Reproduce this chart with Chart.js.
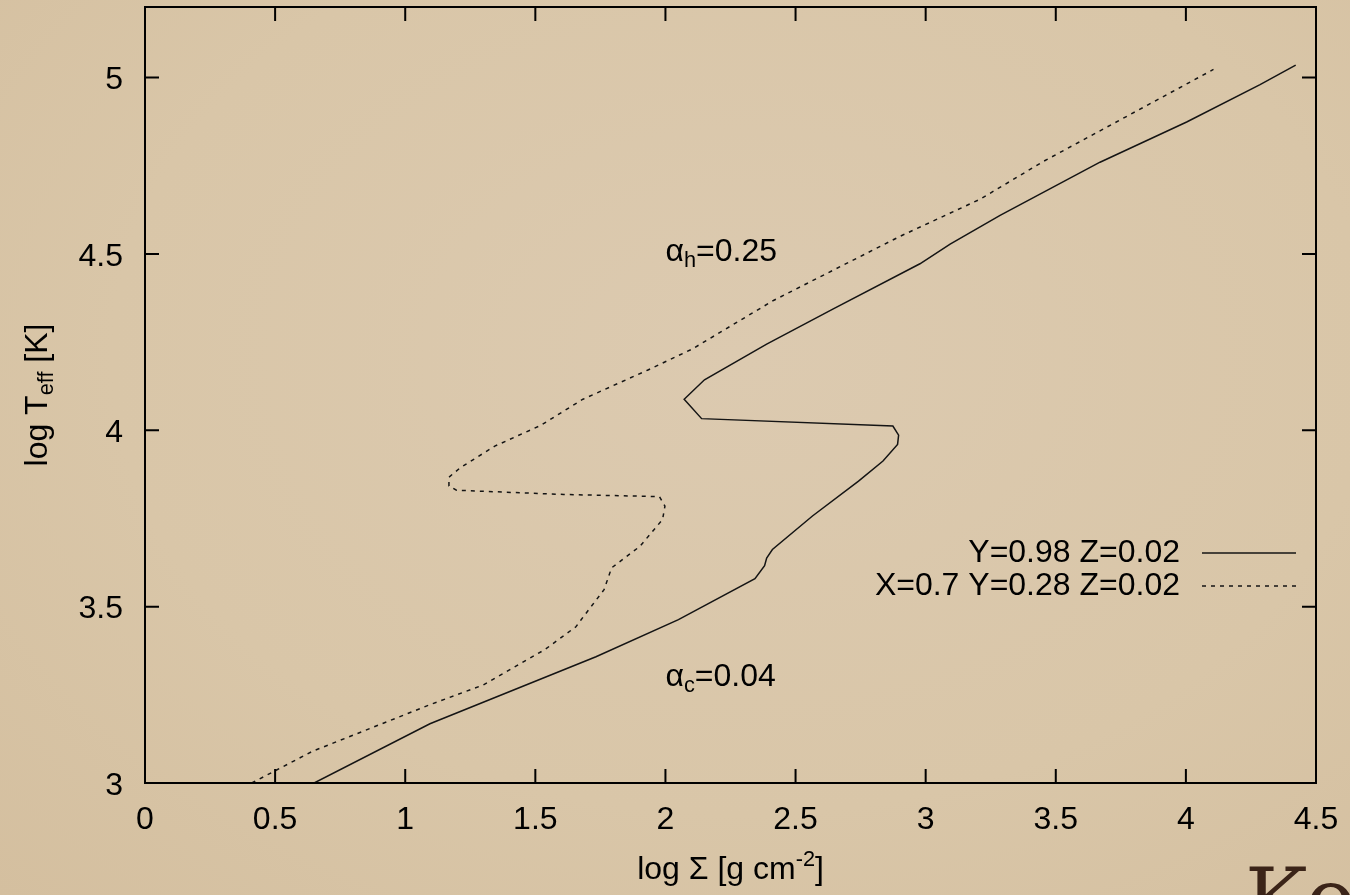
<!DOCTYPE html>
<html>
<head>
<meta charset="utf-8">
<title>log Teff - log Sigma</title>
<script src="https://cdn.jsdelivr.net/npm/chart.js@4.4.0/dist/chart.umd.min.js"></script>
<style>
    html, body { margin: 0; padding: 0; }
    body {
        width: 1350px;
        height: 895px;
        overflow: hidden;
        background: radial-gradient(ellipse at 55% 40%, #dccab0 0%, #d9c6a8 60%, #d4bf9f 100%);
    }
</style>
</head>
<body>
<canvas id="grafica" width="1350" height="895"></canvas>
<script>
// curva solida: Y=0.98 Z=0.02
const sigmaSolida = [0.65, 1.095, 1.733, 2.05, 2.344, 2.381, 2.389, 2.411, 2.565, 2.742, 2.836, 2.892, 2.896, 2.874,
    2.139, 2.072, 2.15, 2.389, 2.645, 2.978, 3.094, 3.286, 3.67, 4.003, 4.285, 4.422];
const teffSolida = [3.0, 3.168, 3.358, 3.463, 3.579, 3.616, 3.638, 3.662, 3.757, 3.856, 3.913, 3.96, 3.986, 4.012,
    4.033, 4.088, 4.143, 4.244, 4.344, 4.472, 4.528, 4.609, 4.76, 4.874, 4.98, 5.035];

// curva punteada: X=0.7 Y=0.28 Z=0.02
const sigmaPunteada = [0.41, 0.644, 1.095, 1.3, 1.536, 1.656, 1.676, 1.764, 1.793, 1.902, 1.989, 1.998, 1.977, 1.609,
    1.197, 1.168, 1.168, 1.212, 1.344, 1.521, 1.683, 1.933, 2.102, 2.415, 2.902, 3.209, 3.452, 4.106];
const teffPunteada = [3.0, 3.09, 3.222, 3.278, 3.378, 3.443, 3.463, 3.548, 3.61, 3.671, 3.747, 3.785, 3.812, 3.818,
    3.83, 3.842, 3.867, 3.894, 3.955, 4.014, 4.088, 4.171, 4.23, 4.368, 4.55, 4.655, 4.762, 5.023];

const xTicks = [0, 0.5, 1, 1.5, 2, 2.5, 3, 3.5, 4, 4.5];
const yTicks = [3, 3.5, 4, 4.5, 5];
const nombres = ['Y=0.98 Z=0.02', 'X=0.7 Y=0.28 Z=0.02'];

const fuente = "'Liberation Sans', Arial, sans-serif";
const tamTexto = 32;

function puntos(xs, ys) {
    return xs.map((v, i) => ({ x: v, y: ys[i] }));
}

// texto con subindice / superindice: partes = [[texto, desplazamiento]]
function textoCompuesto(ctx, partes, x, y, tam, alinear) {
    let ancho = 0;
    partes.forEach(p => {
        ctx.font = (p[1] ? tam * 0.68 : tam) + 'px ' + fuente;
        ancho += ctx.measureText(p[0]).width;
    });
    let cx = x;
    if (alinear === 'center') cx = x - ancho / 2;
    if (alinear === 'right') cx = x - ancho;
    partes.forEach(p => {
        ctx.font = (p[1] ? tam * 0.68 : tam) + 'px ' + fuente;
        ctx.fillText(p[0], cx, y + p[1]);
        cx += ctx.measureText(p[0]).width;
    });
}

const marco = {
    id: 'marco',
    afterDatasetsDraw(chart) {
        const { ctx, chartArea: a, scales: { x, y } } = chart;
        ctx.save();
        ctx.strokeStyle = '#000';
        ctx.lineWidth = 2;
        ctx.strokeRect(a.left, a.top, a.right - a.left, a.bottom - a.top);

        // marcas hacia adentro en los cuatro lados
        ctx.beginPath();
        xTicks.forEach(v => {
            const px = x.getPixelForValue(v);
            ctx.moveTo(px, a.bottom); ctx.lineTo(px, a.bottom - 14);
            ctx.moveTo(px, a.top); ctx.lineTo(px, a.top + 14);
        });
        yTicks.forEach(v => {
            const py = y.getPixelForValue(v);
            ctx.moveTo(a.left, py); ctx.lineTo(a.left + 14, py);
            ctx.moveTo(a.right, py); ctx.lineTo(a.right - 14, py);
        });
        ctx.stroke();

        ctx.fillStyle = '#000';
        ctx.textBaseline = 'middle';

        // etiquetas alfa
        textoCompuesto(ctx, [['α', 0], ['h', 9], ['=0.25', 0]], x.getPixelForValue(2.0), y.getPixelForValue(4.505), tamTexto, 'left');
        textoCompuesto(ctx, [['α', 0], ['c', 9], ['=0.04', 0]], x.getPixelForValue(2.0), y.getPixelForValue(3.3), tamTexto, 'left');

        // leyenda
        const sets = chart.data.datasets;
        sets.forEach((ds, i) => {
            const ly = 553 + i * 33;
            ctx.font = tamTexto + 'px ' + fuente;
            ctx.textAlign = 'right';
            ctx.fillText(nombres[i], a.right - 136, ly);
            ctx.textAlign = 'left';
            ctx.beginPath();
            ctx.lineWidth = ds.borderWidth;
            ctx.strokeStyle = ds.borderColor;
            ctx.setLineDash(ds.borderDash || []);
            ctx.moveTo(a.right - 114, ly);
            ctx.lineTo(a.right - 20, ly);
            ctx.stroke();
            ctx.setLineDash([]);
        });

        // titulos de los ejes
        textoCompuesto(ctx, [['log Σ [g cm', 0], ['-2', -10], [']', 0]], (a.left + a.right) / 2, 870, tamTexto, 'center');
        ctx.translate(38, (a.top + a.bottom) / 2);
        ctx.rotate(-Math.PI / 2);
        textoCompuesto(ctx, [['log T', 0], ['eff', 9], [' [K]', 0]], 0, 0, tamTexto, 'center');
        ctx.restore();

        // firma de la diapositiva
        ctx.save();
        ctx.fillStyle = '#3b2418';
        ctx.font = "84px 'DejaVu Serif', serif";
        ctx.textBaseline = 'alphabetic';
        ctx.fillText('Ko', 1245, 928);
        ctx.restore();
    }
};

const cfg = {
    type: 'scatter',
    data: {
        datasets: [
            {
                label: nombres[0],
                data: puntos(sigmaSolida, teffSolida),
                showLine: true,
                borderColor: '#141414',
                borderWidth: 1.5,
                pointRadius: 0,
                tension: 0
            },
            {
                label: nombres[1],
                data: puntos(sigmaPunteada, teffPunteada),
                showLine: true,
                borderColor: '#141414',
                borderWidth: 1.5,
                borderDash: [4, 5],
                pointRadius: 0,
                tension: 0
            }
        ]
    },
    options: {
        responsive: false,
        devicePixelRatio: 1,
        animation: false,
        layout: { padding: { top: 7, right: 34, left: 0, bottom: 0 } },
        plugins: {
            legend: { display: false },
            tooltip: { enabled: false }
        },
        scales: {
            x: {
                type: 'linear',
                min: 0,
                max: 4.5,
                afterBuildTicks: s => { s.ticks = xTicks.map(v => ({ value: v })); },
                afterFit: s => { s.height = 112; s.paddingLeft = 0; s.paddingRight = 0; },
                grid: { display: false, drawTicks: false },
                border: { display: false },
                ticks: {
                    color: '#000',
                    padding: 18,
                    maxRotation: 0,
                    autoSkip: false,
                    font: { size: tamTexto, family: fuente },
                    callback: v => String(v)
                }
            },
            y: {
                type: 'linear',
                min: 3,
                max: 5.2,
                afterBuildTicks: s => { s.ticks = yTicks.map(v => ({ value: v })); },
                afterFit: s => { s.width = 145; s.paddingTop = 0; s.paddingBottom = 0; },
                grid: { display: false, drawTicks: false },
                border: { display: false },
                ticks: {
                    color: '#000',
                    padding: 22,
                    labelOffset: 3,
                    autoSkip: false,
                    font: { size: tamTexto, family: fuente },
                    callback: v => String(v)
                }
            }
        }
    },
    plugins: [marco]
};

new Chart(document.getElementById('grafica'), cfg);
</script>
</body>
</html>
